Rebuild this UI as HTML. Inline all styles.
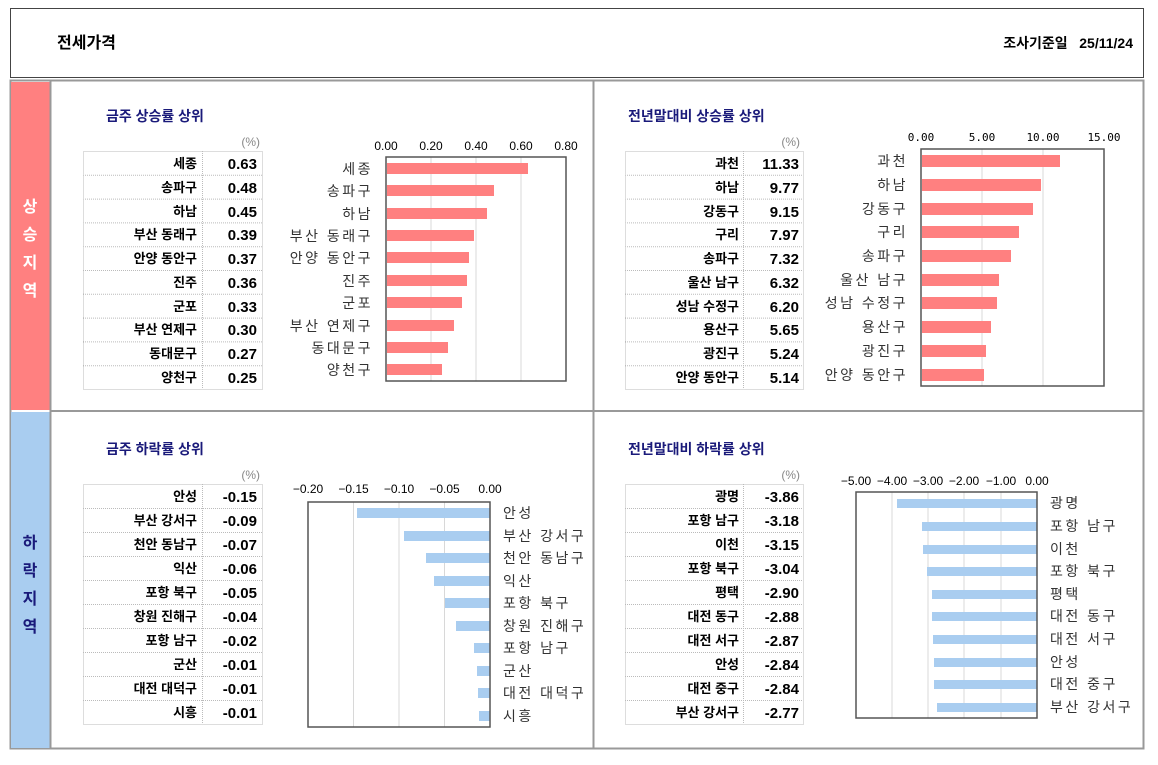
<!DOCTYPE html>
<html><head><meta charset="utf-8"><style>
html,body{margin:0;padding:0;background:#fff;}
svg{display:block;font-family:"Liberation Sans","Noto Sans CJK KR",sans-serif;}
.t{font-size:14px;font-weight:bold;fill:#1a1a7a;}
.n{font-size:13px;font-weight:bold;fill:#000;text-anchor:end;}
.v{font-size:15px;font-weight:bold;fill:#000;text-anchor:end;}
.p{font-size:12px;fill:#888;text-anchor:end;}
.k{font-size:12px;fill:#000;text-anchor:middle;}
.c{font-size:14px;fill:#333;letter-spacing:2.5px;}
.r{text-anchor:end;}
.g{stroke:#d8d8d8;stroke-width:1;}
.tb{fill:none;stroke:#bbb;stroke-dasharray:1 1;stroke-width:1;}
.ax{fill:none;stroke:#555;stroke-width:1.5;}
.pk{fill:#ff8080;}
.bl{fill:#a9cdf0;}
</style></head><body>
<svg width="1158" height="765" viewBox="0 0 1158 765">
<rect x="10.5" y="8.5" width="1133" height="69" fill="#fff" stroke="#444"/>
<text x="57" y="48" style="font-size:16px;font-weight:bold">전세가격</text>
<text x="1133" y="48" style="font-size:14px;font-weight:bold" text-anchor="end">조사기준일 &#160;&#160;25/11/24</text>
<rect x="10.5" y="80.5" width="1133" height="668" fill="#fff" stroke="#999" stroke-width="2"/>
<rect x="11" y="82" width="39" height="328" fill="#ff8080"/>
<rect x="11" y="412" width="39" height="336" fill="#a9cdf0"/>
<line x1="50.5" y1="81" x2="50.5" y2="748" stroke="#999" stroke-width="2"/>
<line x1="50" y1="411" x2="1143" y2="411" stroke="#999" stroke-width="2"/>
<line x1="593.5" y1="81" x2="593.5" y2="748" stroke="#999" stroke-width="2"/>
<g style="font-size:16px;font-weight:bold" text-anchor="middle" fill="#fff">
<text x="30" y="212">상</text><text x="30" y="240">승</text><text x="30" y="268">지</text><text x="30" y="296">역</text>
</g>
<g style="font-size:16px;font-weight:bold" text-anchor="middle" fill="#1a1a7a">
<text x="30" y="548">하</text><text x="30" y="576">락</text><text x="30" y="604">지</text><text x="30" y="632">역</text>
</g>

<!-- Panel 1 -->
<text class="t" x="106" y="121">금주 상승률 상위</text>
<text class="p" x="260" y="146">(%)</text>
<rect class="tb" x="83.5" y="151.5" width="179" height="238"/>
<line class="tb" x1="202.5" y1="151" x2="202.5" y2="389"/>
<g class="tb"><line x1="83" y1="175.3" x2="262" y2="175.3"/><line x1="83" y1="199.1" x2="262" y2="199.1"/><line x1="83" y1="222.9" x2="262" y2="222.9"/><line x1="83" y1="246.7" x2="262" y2="246.7"/><line x1="83" y1="270.5" x2="262" y2="270.5"/><line x1="83" y1="294.3" x2="262" y2="294.3"/><line x1="83" y1="318.1" x2="262" y2="318.1"/><line x1="83" y1="341.9" x2="262" y2="341.9"/><line x1="83" y1="365.7" x2="262" y2="365.7"/></g>
<text class="n" x="197" y="168">세종</text><text class="v" x="257" y="169">0.63</text>
<text class="n" x="197" y="192">송파구</text><text class="v" x="257" y="193">0.48</text>
<text class="n" x="197" y="216">하남</text><text class="v" x="257" y="217">0.45</text>
<text class="n" x="197" y="239">부산 동래구</text><text class="v" x="257" y="240">0.39</text>
<text class="n" x="197" y="263">안양 동안구</text><text class="v" x="257" y="264">0.37</text>
<text class="n" x="197" y="287">진주</text><text class="v" x="257" y="288">0.36</text>
<text class="n" x="197" y="311">군포</text><text class="v" x="257" y="312">0.33</text>
<text class="n" x="197" y="334">부산 연제구</text><text class="v" x="257" y="335">0.30</text>
<text class="n" x="197" y="358">동대문구</text><text class="v" x="257" y="359">0.27</text>
<text class="n" x="197" y="382">양천구</text><text class="v" x="257" y="383">0.25</text>
<g class="g"><line x1="431" y1="157" x2="431" y2="381"/><line x1="476" y1="157" x2="476" y2="381"/><line x1="521" y1="157" x2="521" y2="381"/></g>
<g class="k"><text x="386" y="150">0.00</text><text x="431" y="150">0.20</text><text x="476" y="150">0.40</text><text x="521" y="150">0.60</text><text x="566" y="150">0.80</text></g>
<g class="pk">
<rect x="387" y="163" width="141" height="11"/><rect x="387" y="185" width="107" height="11"/><rect x="387" y="208" width="100" height="11"/><rect x="387" y="230" width="87" height="11"/><rect x="387" y="252" width="82" height="11"/><rect x="387" y="275" width="80" height="11"/><rect x="387" y="297" width="75" height="11"/><rect x="387" y="320" width="67" height="11"/><rect x="387" y="342" width="61" height="11"/><rect x="387" y="364" width="55" height="11"/>
</g>
<rect class="ax" x="386" y="157" width="180" height="224"/>
<g class="c r">
<text x="373" y="174">세종</text><text x="373" y="196">송파구</text><text x="373" y="219">하남</text><text x="373" y="241">부산 동래구</text><text x="373" y="263">안양 동안구</text><text x="373" y="286">진주</text><text x="373" y="308">군포</text><text x="373" y="331">부산 연제구</text><text x="373" y="353">동대문구</text><text x="373" y="375">양천구</text>
</g>

<!-- Panel 2 -->
<text class="t" x="628" y="121">전년말대비 상승률 상위</text>
<text class="p" x="800" y="146">(%)</text>
<rect class="tb" x="625.5" y="151.5" width="178" height="238"/>
<line class="tb" x1="743.5" y1="151" x2="743.5" y2="389"/>
<g class="tb"><line x1="625" y1="175.3" x2="803" y2="175.3"/><line x1="625" y1="199.1" x2="803" y2="199.1"/><line x1="625" y1="222.9" x2="803" y2="222.9"/><line x1="625" y1="246.7" x2="803" y2="246.7"/><line x1="625" y1="270.5" x2="803" y2="270.5"/><line x1="625" y1="294.3" x2="803" y2="294.3"/><line x1="625" y1="318.1" x2="803" y2="318.1"/><line x1="625" y1="341.9" x2="803" y2="341.9"/><line x1="625" y1="365.7" x2="803" y2="365.7"/></g>
<text class="n" x="739" y="168">과천</text><text class="v" x="799" y="169">11.33</text>
<text class="n" x="739" y="192">하남</text><text class="v" x="799" y="193">9.77</text>
<text class="n" x="739" y="216">강동구</text><text class="v" x="799" y="217">9.15</text>
<text class="n" x="739" y="239">구리</text><text class="v" x="799" y="240">7.97</text>
<text class="n" x="739" y="263">송파구</text><text class="v" x="799" y="264">7.32</text>
<text class="n" x="739" y="287">울산 남구</text><text class="v" x="799" y="288">6.32</text>
<text class="n" x="739" y="311">성남 수정구</text><text class="v" x="799" y="312">6.20</text>
<text class="n" x="739" y="334">용산구</text><text class="v" x="799" y="335">5.65</text>
<text class="n" x="739" y="358">광진구</text><text class="v" x="799" y="359">5.24</text>
<text class="n" x="739" y="382">안양 동안구</text><text class="v" x="799" y="383">5.14</text>
<g class="g"><line x1="982" y1="149" x2="982" y2="386"/><line x1="1043" y1="149" x2="1043" y2="386"/></g>
<g class="k" style="font-size:11px;font-family:'DejaVu Sans Mono','Liberation Mono',monospace"><text x="921" y="141">0.00</text><text x="982" y="141">5.00</text><text x="1043" y="141">10.00</text><text x="1104" y="141">15.00</text></g>
<g class="pk">
<rect x="922" y="155" width="138" height="12"/><rect x="922" y="179" width="119" height="12"/><rect x="922" y="203" width="111" height="12"/><rect x="922" y="226" width="97" height="12"/><rect x="922" y="250" width="89" height="12"/><rect x="922" y="274" width="77" height="12"/><rect x="922" y="297" width="75" height="12"/><rect x="922" y="321" width="69" height="12"/><rect x="922" y="345" width="64" height="12"/><rect x="922" y="369" width="62" height="12"/>
</g>
<rect class="ax" x="921" y="149" width="183" height="237"/>
<g class="c r">
<text x="908" y="166">과천</text><text x="908" y="190">하남</text><text x="908" y="214">강동구</text><text x="908" y="237">구리</text><text x="908" y="261">송파구</text><text x="908" y="285">울산 남구</text><text x="908" y="308">성남 수정구</text><text x="908" y="332">용산구</text><text x="908" y="356">광진구</text><text x="908" y="380">안양 동안구</text>
</g>

<!-- Panel 3 -->
<text class="t" x="106" y="454">금주 하락률 상위</text>
<text class="p" x="260" y="479">(%)</text>
<rect class="tb" x="83.5" y="484.5" width="179" height="240"/>
<line class="tb" x1="202.5" y1="484" x2="202.5" y2="724"/>
<g class="tb"><line x1="83" y1="508.5" x2="262" y2="508.5"/><line x1="83" y1="532.5" x2="262" y2="532.5"/><line x1="83" y1="556.5" x2="262" y2="556.5"/><line x1="83" y1="580.5" x2="262" y2="580.5"/><line x1="83" y1="604.5" x2="262" y2="604.5"/><line x1="83" y1="628.5" x2="262" y2="628.5"/><line x1="83" y1="652.5" x2="262" y2="652.5"/><line x1="83" y1="676.5" x2="262" y2="676.5"/><line x1="83" y1="700.5" x2="262" y2="700.5"/></g>
<text class="n" x="197" y="501">안성</text><text class="v" x="257" y="502">-0.15</text>
<text class="n" x="197" y="525">부산 강서구</text><text class="v" x="257" y="526">-0.09</text>
<text class="n" x="197" y="549">천안 동남구</text><text class="v" x="257" y="550">-0.07</text>
<text class="n" x="197" y="573">익산</text><text class="v" x="257" y="574">-0.06</text>
<text class="n" x="197" y="597">포항 북구</text><text class="v" x="257" y="598">-0.05</text>
<text class="n" x="197" y="621">창원 진해구</text><text class="v" x="257" y="622">-0.04</text>
<text class="n" x="197" y="645">포항 남구</text><text class="v" x="257" y="646">-0.02</text>
<text class="n" x="197" y="669">군산</text><text class="v" x="257" y="670">-0.01</text>
<text class="n" x="197" y="693">대전 대덕구</text><text class="v" x="257" y="694">-0.01</text>
<text class="n" x="197" y="717">시흥</text><text class="v" x="257" y="718">-0.01</text>
<g class="g"><line x1="353.5" y1="502" x2="353.5" y2="727"/><line x1="399" y1="502" x2="399" y2="727"/><line x1="444.5" y1="502" x2="444.5" y2="727"/></g>
<g class="k"><text x="308" y="493">−0.20</text><text x="353.5" y="493">−0.15</text><text x="399" y="493">−0.10</text><text x="444.5" y="493">−0.05</text><text x="490" y="493">0.00</text></g>
<g class="bl">
<rect x="357" y="508" width="133" height="10"/><rect x="404" y="531" width="86" height="10"/><rect x="426" y="553" width="64" height="10"/><rect x="434" y="576" width="56" height="10"/><rect x="445" y="598" width="45" height="10"/><rect x="456" y="621" width="34" height="10"/><rect x="474" y="643" width="16" height="10"/><rect x="477" y="666" width="13" height="10"/><rect x="478" y="688" width="12" height="10"/><rect x="479" y="711" width="11" height="10"/>
</g>
<rect class="ax" x="308" y="502" width="182" height="225"/>
<g class="c">
<text x="503" y="518">안성</text><text x="503" y="541">부산 강서구</text><text x="503" y="563">천안 동남구</text><text x="503" y="586">익산</text><text x="503" y="608">포항 북구</text><text x="503" y="631">창원 진해구</text><text x="503" y="653">포항 남구</text><text x="503" y="676">군산</text><text x="503" y="698">대전 대덕구</text><text x="503" y="721">시흥</text>
</g>

<!-- Panel 4 -->
<text class="t" x="628" y="454">전년말대비 하락률 상위</text>
<text class="p" x="800" y="479">(%)</text>
<rect class="tb" x="625.5" y="484.5" width="178" height="240"/>
<line class="tb" x1="743.5" y1="484" x2="743.5" y2="724"/>
<g class="tb"><line x1="625" y1="508.5" x2="803" y2="508.5"/><line x1="625" y1="532.5" x2="803" y2="532.5"/><line x1="625" y1="556.5" x2="803" y2="556.5"/><line x1="625" y1="580.5" x2="803" y2="580.5"/><line x1="625" y1="604.5" x2="803" y2="604.5"/><line x1="625" y1="628.5" x2="803" y2="628.5"/><line x1="625" y1="652.5" x2="803" y2="652.5"/><line x1="625" y1="676.5" x2="803" y2="676.5"/><line x1="625" y1="700.5" x2="803" y2="700.5"/></g>
<text class="n" x="739" y="501">광명</text><text class="v" x="799" y="502">-3.86</text>
<text class="n" x="739" y="525">포항 남구</text><text class="v" x="799" y="526">-3.18</text>
<text class="n" x="739" y="549">이천</text><text class="v" x="799" y="550">-3.15</text>
<text class="n" x="739" y="573">포항 북구</text><text class="v" x="799" y="574">-3.04</text>
<text class="n" x="739" y="597">평택</text><text class="v" x="799" y="598">-2.90</text>
<text class="n" x="739" y="621">대전 동구</text><text class="v" x="799" y="622">-2.88</text>
<text class="n" x="739" y="645">대전 서구</text><text class="v" x="799" y="646">-2.87</text>
<text class="n" x="739" y="669">안성</text><text class="v" x="799" y="670">-2.84</text>
<text class="n" x="739" y="693">대전 중구</text><text class="v" x="799" y="694">-2.84</text>
<text class="n" x="739" y="717">부산 강서구</text><text class="v" x="799" y="718">-2.77</text>
<g class="g"><line x1="892" y1="492" x2="892" y2="718"/><line x1="928" y1="492" x2="928" y2="718"/><line x1="964" y1="492" x2="964" y2="718"/><line x1="1001" y1="492" x2="1001" y2="718"/></g>
<g class="k"><text x="856" y="485">−5.00</text><text x="892" y="485">−4.00</text><text x="928" y="485">−3.00</text><text x="964" y="485">−2.00</text><text x="1001" y="485">−1.00</text><text x="1037" y="485">0.00</text></g>
<g class="bl">
<rect x="897" y="499" width="140" height="9"/><rect x="922" y="522" width="115" height="9"/><rect x="923" y="545" width="114" height="9"/><rect x="927" y="567" width="110" height="9"/><rect x="932" y="590" width="105" height="9"/><rect x="932" y="612" width="105" height="9"/><rect x="933" y="635" width="104" height="9"/><rect x="934" y="658" width="103" height="9"/><rect x="934" y="680" width="103" height="9"/><rect x="937" y="703" width="100" height="9"/>
</g>
<rect class="ax" x="856" y="492" width="181" height="226"/>
<g class="c">
<text x="1050" y="508">광명</text><text x="1050" y="531">포항 남구</text><text x="1050" y="554">이천</text><text x="1050" y="576">포항 북구</text><text x="1050" y="599">평택</text><text x="1050" y="621">대전 동구</text><text x="1050" y="644">대전 서구</text><text x="1050" y="667">안성</text><text x="1050" y="689">대전 중구</text><text x="1050" y="712">부산 강서구</text>
</g>
</svg>
</body></html>
